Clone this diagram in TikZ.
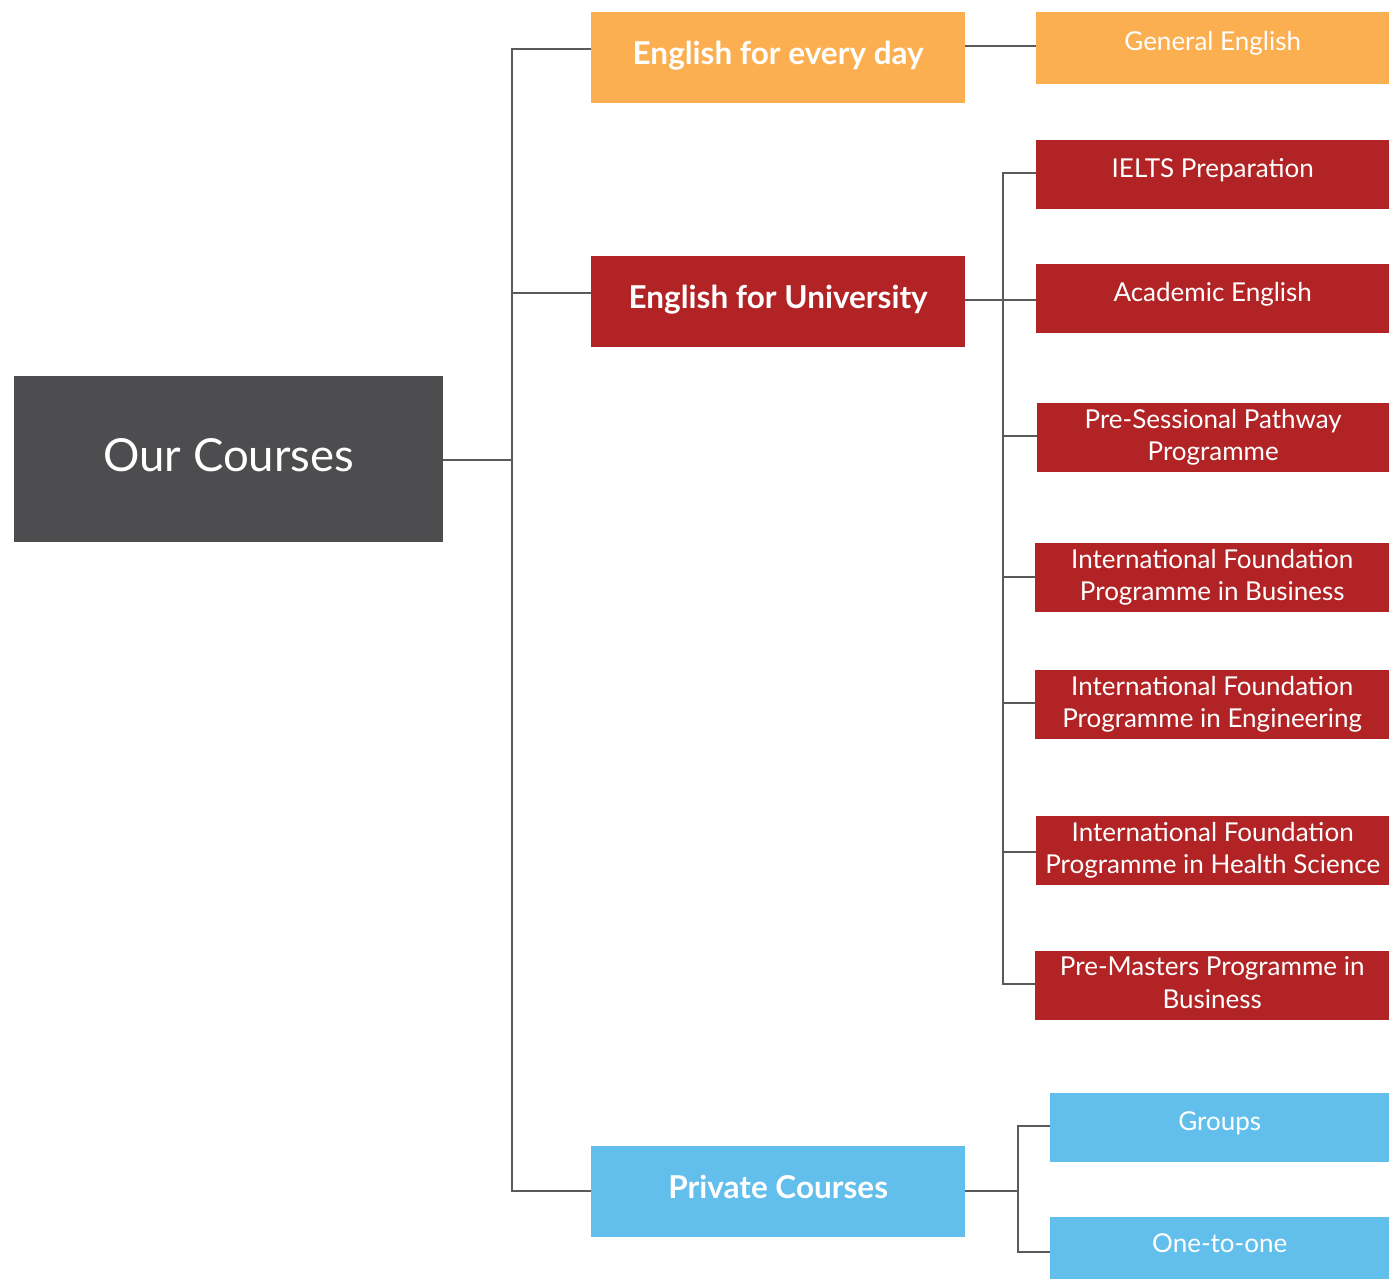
\documentclass[tikz,border=0pt]{standalone}
\usepackage{fontspec}
\setmainfont{Lato}
\definecolor{cgray}{HTML}{4D4D4F}
\definecolor{corange}{HTML}{FBAF50}
\definecolor{cred}{HTML}{B22325}
\definecolor{cblue}{HTML}{62BFEC}
\definecolor{cline}{HTML}{5A5A5A}
\begin{document}
\begin{tikzpicture}[x=1pt,y=-1pt,
  box/.style={rectangle,inner sep=0pt,text=white,align=center,anchor=north west},
  mid/.style={box,font=\fontsize{31.5}{36}\selectfont\bfseries,text depth=10pt},
  leaf/.style={box,font=\fontsize{26}{32.5}\selectfont},
  conn/.style={draw=cline,line width=2.6pt}]
\useasboundingbox (0,0) rectangle (1389,1279);
% root
\node[box,fill=cgray,minimum width=429pt,minimum height=166pt,font=\fontsize{45.5}{50}\selectfont,text depth=8pt] (root) at (14,376) {Our Courses};
% middle
\node[mid,fill=corange,minimum width=374pt,minimum height=91pt] (every) at (591,12) {English for every day};
\node[mid,fill=cred,minimum width=374pt,minimum height=91pt] (uni) at (591,256) {English for University};
\node[mid,fill=cblue,minimum width=374pt,minimum height=91pt] (priv) at (591,1146) {Private Courses};
% leaves
\node[leaf,fill=corange,minimum width=353pt,minimum height=72pt,text depth=14pt] (gen) at (1036,12) {General English};
\node[leaf,fill=cred,minimum width=353pt,minimum height=69pt,text depth=14pt] (ielts) at (1036,140) {IELTS Preparation};
\node[leaf,fill=cred,minimum width=353pt,minimum height=69pt,text depth=14pt] (acad) at (1036,264) {Academic English};
\node[leaf,fill=cred,minimum width=352pt,minimum height=69pt,text depth=6pt] (pres) at (1037,403) {Pre-Sessional Pathway\\Programme};
\node[leaf,fill=cred,minimum width=354pt,minimum height=69pt,text depth=6pt] (ifpb) at (1035,543) {International Foundation\\Programme in Business};
\node[leaf,fill=cred,minimum width=354pt,minimum height=69pt,text depth=6pt] (ifpe) at (1035,670) {International Foundation\\Programme in Engineering};
\node[leaf,fill=cred,minimum width=353pt,minimum height=69pt,text depth=6pt] (ifph) at (1036,816) {International Foundation\\Programme in Health Science};
\node[leaf,fill=cred,minimum width=354pt,minimum height=69pt,text depth=6pt] (prem) at (1035,951) {Pre-Masters Programme in\\Business};
\node[leaf,fill=cblue,minimum width=339pt,minimum height=69pt,text depth=14pt] (grp) at (1050,1093) {Groups};
\node[leaf,fill=cblue,minimum width=339pt,minimum height=62pt,text depth=10pt] (one) at (1050,1217) {One-to-one};
% connectors
\coordinate (t1) at (512,460);
\draw[conn] (root.east |- t1) -- (t1);
\draw[conn] (every.west |- 0,49) -- (512,49) -- (512,1191) -- (priv.west |- 0,1191);
\draw[conn] (512,293) -- (uni.west |- 0,293);
\draw[conn] (every.east |- 0,46) -- (gen.west |- 0,46);
% university
\draw[conn] (uni.east |- 0,300) -- (acad.west |- 0,300);
\draw[conn] (ielts.west |- 0,173) -- (1003,173) -- (1003,984) -- (prem.west |- 0,984);
\draw[conn] (1003,436) -- (pres.west |- 0,436);
\draw[conn] (1003,577) -- (ifpb.west |- 0,577);
\draw[conn] (1003,703) -- (ifpe.west |- 0,703);
\draw[conn] (1003,852) -- (ifph.west |- 0,852);
% private
\draw[conn] (priv.east |- 0,1191) -- (1018,1191);
\draw[conn] (grp.west |- 0,1126) -- (1018,1126) -- (1018,1252) -- (one.west |- 0,1252);
\end{tikzpicture}
\end{document}
